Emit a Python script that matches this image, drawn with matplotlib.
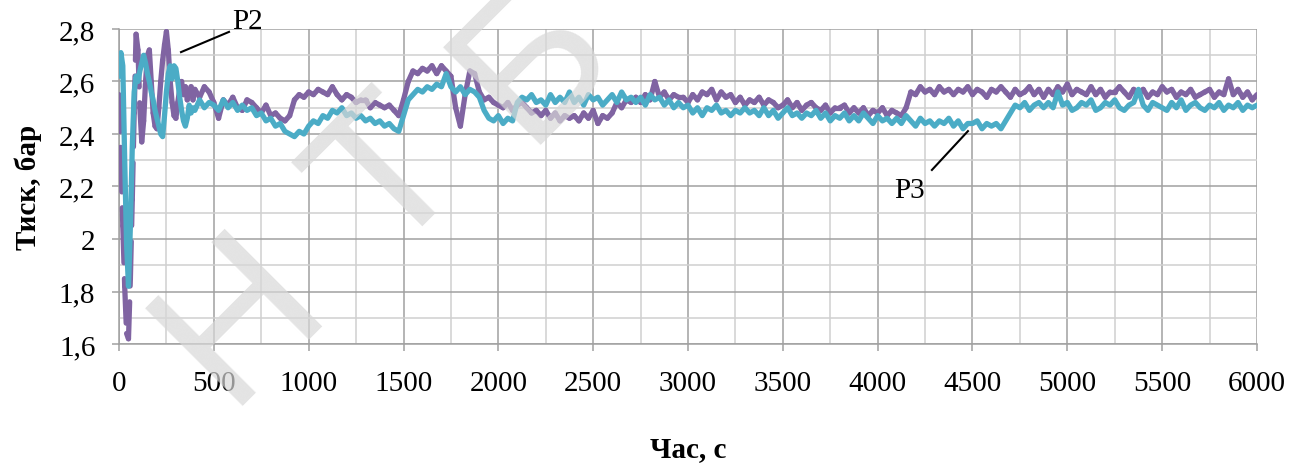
import numpy as np
import matplotlib.pyplot as plt
from matplotlib.collections import LineCollection
from matplotlib.ticker import MultipleLocator

plt.rcParams['font.family'] = ['Liberation Serif', 'DejaVu Serif']

# sampling times, s (dense at the start-up transient)
t_start = np.arange(0, 400, 10)
t_main = np.arange(400, 6001, 25)

# P2 pressure, bar
p2_start = [2.55, 2.32, 2.05, 1.82, 1.64, 1.62, 1.85, 2.15, 2.48, 2.78,
            2.72, 2.50, 2.37, 2.45, 2.60, 2.70, 2.72, 2.60, 2.48, 2.43,
            2.42, 2.50, 2.60, 2.68, 2.74, 2.79, 2.72, 2.60, 2.52, 2.47,
            2.46, 2.52, 2.57, 2.60, 2.55, 2.58, 2.53, 2.56, 2.58, 2.53]
p2_main = [
    2.57, 2.54, 2.58, 2.56, 2.52, 2.46, 2.53, 2.51, 2.54, 2.50, 2.49, 2.53, 2.52, 2.50, 2.48, 2.51, 2.47, 2.48, 2.46, 2.45,
    2.47, 2.53, 2.55, 2.54, 2.56, 2.55, 2.57, 2.56, 2.55, 2.58, 2.55, 2.53, 2.55, 2.54, 2.52, 2.53, 2.53, 2.50, 2.52, 2.51,
    2.50, 2.51, 2.49, 2.47, 2.53, 2.60, 2.64, 2.63, 2.65, 2.64, 2.66, 2.63, 2.66, 2.64, 2.62, 2.50, 2.43, 2.55, 2.64, 2.63,
    2.56, 2.53, 2.54, 2.52, 2.51, 2.50, 2.52, 2.49, 2.51, 2.52, 2.50, 2.48, 2.49, 2.47, 2.49, 2.46, 2.48, 2.45, 2.47, 2.46,
    2.47, 2.45, 2.48, 2.46, 2.49, 2.44, 2.47, 2.46, 2.48, 2.52, 2.50, 2.53, 2.52, 2.54, 2.52, 2.55, 2.53, 2.60, 2.54, 2.56,
    2.53, 2.55, 2.54, 2.54, 2.52, 2.55, 2.53, 2.56, 2.55, 2.57, 2.53, 2.56, 2.54, 2.55, 2.52, 2.54, 2.51, 2.53, 2.52, 2.54,
    2.51, 2.53, 2.52, 2.50, 2.51, 2.53, 2.50, 2.52, 2.49, 2.51, 2.52, 2.50, 2.49, 2.51, 2.48, 2.50, 2.50, 2.51, 2.48, 2.50,
    2.48, 2.50, 2.47, 2.49, 2.48, 2.50, 2.47, 2.49, 2.48, 2.47, 2.50, 2.56, 2.55, 2.58, 2.56, 2.57, 2.55, 2.58, 2.56, 2.57,
    2.55, 2.57, 2.56, 2.58, 2.55, 2.57, 2.56, 2.54, 2.57, 2.56, 2.58, 2.56, 2.54, 2.57, 2.55, 2.56, 2.58, 2.55, 2.57, 2.54,
    2.57, 2.55, 2.58, 2.56, 2.59, 2.55, 2.57, 2.56, 2.55, 2.58, 2.55, 2.57, 2.54, 2.56, 2.56, 2.58, 2.56, 2.54, 2.57, 2.55,
    2.57, 2.54, 2.56, 2.55, 2.58, 2.56, 2.57, 2.54, 2.56, 2.55, 2.57, 2.54, 2.55, 2.56, 2.57, 2.54, 2.56, 2.55, 2.61, 2.55,
    2.57, 2.54, 2.56, 2.53, 2.55]

# P3 pressure, bar
p3_start = [2.62, 2.71, 2.66, 2.30, 1.98, 1.82, 2.05, 2.35, 2.56, 2.62,
            2.60, 2.64, 2.67, 2.70, 2.67, 2.63, 2.60, 2.56, 2.53, 2.49,
            2.46, 2.43, 2.40, 2.39, 2.47, 2.56, 2.63, 2.66, 2.61, 2.66,
            2.65, 2.60, 2.54, 2.49, 2.45, 2.43, 2.46, 2.51, 2.48, 2.50]
p3_main = [
    2.49, 2.53, 2.50, 2.52, 2.51, 2.49, 2.53, 2.50, 2.52, 2.49, 2.51, 2.49, 2.50, 2.47, 2.48, 2.45, 2.46, 2.43, 2.44, 2.41,
    2.40, 2.39, 2.41, 2.40, 2.43, 2.45, 2.44, 2.47, 2.46, 2.49, 2.48, 2.50, 2.47, 2.48, 2.46, 2.47, 2.45, 2.46, 2.44, 2.45,
    2.43, 2.44, 2.42, 2.41, 2.47, 2.53, 2.55, 2.57, 2.56, 2.58, 2.57, 2.59, 2.58, 2.63, 2.58, 2.56, 2.58, 2.55, 2.57, 2.56,
    2.54, 2.49, 2.46, 2.45, 2.47, 2.44, 2.46, 2.45, 2.52, 2.54, 2.53, 2.55, 2.52, 2.53, 2.51, 2.55, 2.52, 2.54, 2.52, 2.56,
    2.52, 2.54, 2.51, 2.55, 2.53, 2.54, 2.51, 2.53, 2.55, 2.52, 2.56, 2.53, 2.54, 2.52, 2.54, 2.51, 2.55, 2.53, 2.54, 2.51,
    2.53, 2.50, 2.52, 2.50, 2.51, 2.48, 2.50, 2.47, 2.50, 2.49, 2.51, 2.48, 2.49, 2.47, 2.49, 2.48, 2.50, 2.48, 2.49, 2.47,
    2.50, 2.47, 2.49, 2.46, 2.48, 2.50, 2.47, 2.48, 2.46, 2.48, 2.47, 2.49, 2.46, 2.48, 2.45, 2.47, 2.46, 2.48, 2.45, 2.47,
    2.45, 2.48, 2.46, 2.44, 2.47, 2.45, 2.46, 2.44, 2.46, 2.44, 2.47, 2.45, 2.43, 2.46, 2.44, 2.45, 2.43, 2.45, 2.44, 2.46,
    2.43, 2.45, 2.42, 2.44, 2.44, 2.45, 2.42, 2.44, 2.43, 2.44, 2.42, 2.45, 2.48, 2.51, 2.50, 2.52, 2.49, 2.51, 2.52, 2.50,
    2.52, 2.50, 2.56, 2.51, 2.52, 2.49, 2.50, 2.52, 2.51, 2.53, 2.49, 2.50, 2.52, 2.51, 2.53, 2.50, 2.49, 2.51, 2.52, 2.57,
    2.51, 2.49, 2.52, 2.51, 2.50, 2.49, 2.52, 2.50, 2.53, 2.49, 2.51, 2.52, 2.50, 2.49, 2.51, 2.50, 2.52, 2.49, 2.51, 2.50,
    2.52, 2.49, 2.51, 2.50, 2.51]

x_ticks = np.arange(0, 6001, 500)
y_ticks = [1.6, 1.8, 2.0, 2.2, 2.4, 2.6, 2.8]
y_tick_labels = ['1,6', '1,8', '2', '2,2', '2,4', '2,6', '2,8']

time = np.concatenate([t_start, t_main])
p2 = np.array(p2_start + p2_main)
p3 = np.array(p3_start + p3_main)

purple = '#8064a2'
aqua = '#4bacc6'
grid_major = '#a0a0a0'
grid_minor = '#d0d0d0'

fig = plt.figure(figsize=(13, 4.64), dpi=100)
ax = fig.add_axes([119 / 1300, 1 - 345 / 464, 1138 / 1300, 315 / 464])

# P2 is a dashed series; each segment gets its own dash pattern so the
# short noisy steps stay solid and only the long jumps break up
pts = np.column_stack([time, p2])
segs = np.stack([pts[:-1], pts[1:]], axis=1)
lc = LineCollection(segs, colors=purple, linewidths=3.8,
                    linestyles=[(0, (7, 3))], capstyle='round', zorder=3)
ax.add_collection(lc)

ax.plot(time, p3, color=aqua, lw=3.8, solid_capstyle='round',
        solid_joinstyle='round', zorder=4)

ax.set_xlim(0, 6000)
ax.set_ylim(1.6, 2.8)
ax.set_xticks(x_ticks)
ax.set_xticklabels([str(v) for v in x_ticks])
ax.set_yticks(y_ticks)
ax.set_yticklabels(y_tick_labels)
ax.xaxis.set_minor_locator(MultipleLocator(250))
ax.yaxis.set_minor_locator(MultipleLocator(0.1))

ax.grid(which='major', color=grid_major, lw=1.1, zorder=0)
ax.grid(which='minor', color=grid_minor, lw=1.1, zorder=0)
ax.set_axisbelow(True)
for side in ['top', 'right']:
    ax.spines[side].set_visible(False)
for side in ['left', 'bottom']:
    ax.spines[side].set_color(grid_major)
    ax.spines[side].set_linewidth(1.1)

ax.tick_params(which='major', direction='out', length=5, width=1.1,
               color=grid_major, labelsize=21, labelcolor='black')
ax.tick_params(axis='y', which='major', pad=12)
ax.tick_params(axis='x', which='major', pad=14)
ax.tick_params(which='minor', length=0)

ax.set_xlabel('Час, с', fontsize=21, fontweight='bold', labelpad=28)
ax.set_ylabel('Тиск, бар', fontsize=21, fontweight='bold', labelpad=12)

# series labels with leader lines
ax.plot([327, 580], [2.712, 2.789], color='black', lw=1.5, clip_on=False, zorder=5)
ax.text(675, 2.83, 'P2', fontsize=21, ha='center', va='center', clip_on=False)
ax.plot([4286, 4476], [2.263, 2.411], color='black', lw=1.5, zorder=5)
ax.text(4170, 2.187, 'P3', fontsize=21, ha='center', va='center')

# library watermark over the plot, letters set along a diagonal
for letter, (px, py) in zip('НТБ', [(241, 318), (392, 180), (535, 62)]):
    fig.text(px / 1300, 1 - py / 464, letter, fontsize=145, family='Liberation Sans',
             color='#d8d8d8', alpha=0.7, rotation=45, ha='center', va='center',
             zorder=10)

fig.savefig('out.png', dpi=100)
